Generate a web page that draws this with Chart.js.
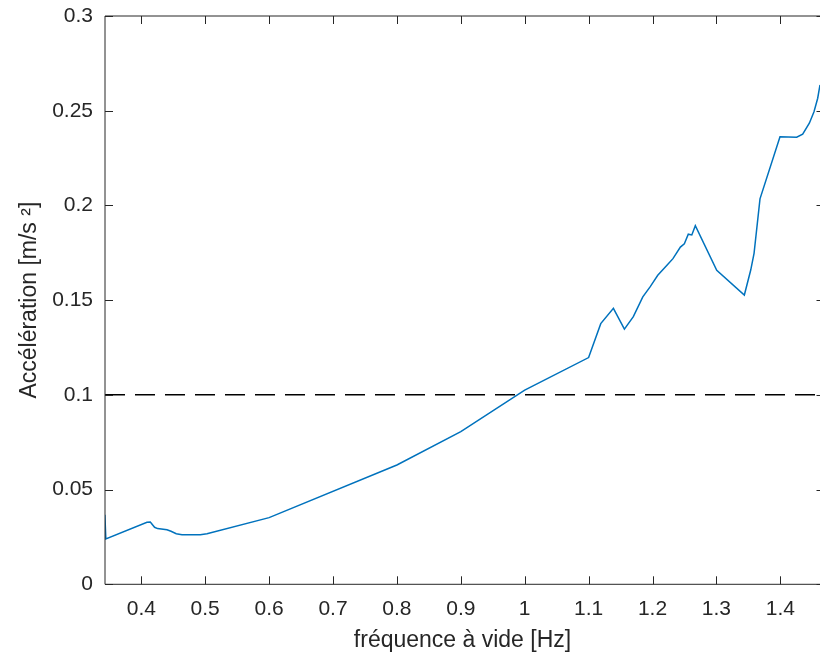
<!DOCTYPE html>
<html lang="fr">
<head>
    <meta charset="UTF-8">
    <title>Accélération</title>
    <script src="https://cdn.jsdelivr.net/npm/chart.js@4.4.0/dist/chart.umd.min.js"></script>
    <style>
        html, body { margin: 0; padding: 0; background: #fff; }
        #wrap { width: 820px; height: 657px; }
    </style>
</head>
<body>
<div id="wrap">
    <canvas id="chart_accel" width="820" height="657" role="img" aria-label="Accélération vs fréquence à vide"></canvas>
</div>

<script>
    // fréquence à vide [Hz]
    const freqs = [
        0.3430, 0.3445, 0.4089, 0.4141, 0.4208, 0.4255, 0.4402, 0.4465, 0.4547, 0.4637,
        0.4923, 0.5028, 0.6000, 0.8000, 0.9000, 1.0000, 1.1000, 1.1190, 1.1388, 1.1560,
        1.1700, 1.1848, 1.1962, 1.2082, 1.2240, 1.2320, 1.2436, 1.2498, 1.2560, 1.2615,
        1.2670, 1.3005, 1.3437, 1.3537, 1.3589, 1.3682, 1.3995, 1.4256, 1.4350, 1.4454,
        1.4527, 1.4585, 1.4621
    ];
    // accélération [m/s^2]
    const accels = [
        0.0367, 0.0240, 0.0327, 0.0329, 0.0301, 0.0294, 0.0288, 0.0280, 0.0267, 0.0262,
        0.0262, 0.0267, 0.0352, 0.0630, 0.0806, 0.1025, 0.1197, 0.1376, 0.1457, 0.1347,
        0.1413, 0.1517, 0.1570, 0.1631, 0.1689, 0.1719, 0.1780, 0.1798, 0.1848, 0.1844,
        0.1893, 0.1657, 0.1527, 0.1659, 0.1747, 0.2035, 0.2363, 0.2360, 0.2376, 0.2434,
        0.2495, 0.2566, 0.2636
    ];
    const threshold = 0.1;

    const xMin = 0.3432;
    const xMax = 1.4621;
    const xTicks = [0.4, 0.5, 0.6, 0.7, 0.8, 0.9, 1, 1.1, 1.2, 1.3, 1.4];
    const yTicks = [0, 0.05, 0.1, 0.15, 0.2, 0.25, 0.3];

    const textColor = '#262626';
    const fontFamily = '"Liberation Sans", Arial, Helvetica, sans-serif';

    // MATLAB-like box: inward ticks on every side, axes drawn over the data
    const axesBox = {
        id: 'axesBox',
        afterDatasetsDraw(chart) {
            const {ctx, chartArea: a, scales: {x, y}} = chart;
            ctx.save();
            ctx.strokeStyle = textColor;
            ctx.lineWidth = 1;
            ctx.beginPath();
            ctx.moveTo(a.left, a.bottom);
            ctx.lineTo(a.left, a.top);
            ctx.lineTo(a.right, a.top);
            ctx.moveTo(a.left, a.bottom);
            ctx.lineTo(a.right, a.bottom);
            x.ticks.forEach(t => {
                const px = Math.round(x.getPixelForValue(t.value)) + 0.5;
                ctx.moveTo(px, a.bottom);
                ctx.lineTo(px, a.bottom - 8);
                ctx.moveTo(px, a.top);
                ctx.lineTo(px, a.top + 8);
            });
            y.ticks.forEach(t => {
                const py = Math.round(y.getPixelForValue(t.value)) + 0.5;
                ctx.moveTo(a.left, py);
                ctx.lineTo(a.left + 8, py);
                ctx.moveTo(a.right - 3.5, py);
                ctx.lineTo(a.right, py);
            });
            ctx.stroke();
            ctx.restore();
        }
    };

    let chartAccel = new Chart(
        document.getElementById('chart_accel'),
        {
            type: 'line',
            data: {
                datasets: [
                    {
                        label: 'Accélération',
                        borderColor: '#0072BD',
                        backgroundColor: '#0072BD',
                        borderWidth: 1.5,
                        pointRadius: 0,
                        tension: 0,
                        order: 0,
                        data: freqs.map((f, i) => ({x: f, y: accels[i]})),
                    },
                    {
                        label: 'Seuil',
                        borderColor: '#000000',
                        backgroundColor: '#000000',
                        borderWidth: 1.5,
                        borderDash: [20, 10],
                        pointRadius: 0,
                        order: 1,
                        data: [{x: xMin, y: threshold}, {x: xMax, y: threshold}],
                    },
                ],
            },
            options: {
                responsive: false,
                animation: false,
                layout: {
                    padding: {top: 16, right: 0, left: 0, bottom: 0},
                },
                scales: {
                    x: {
                        type: 'linear',
                        min: xMin,
                        max: xMax,
                        afterBuildTicks: scale => { scale.ticks = xTicks.map(v => ({value: v})); },
                        afterFit: scale => {
                            scale.height = 72.7;
                            scale.paddingLeft = 0;
                            scale.paddingRight = 0;
                        },
                        grid: {display: false, drawTicks: false},
                        border: {display: false},
                        ticks: {
                            color: textColor,
                            padding: 12,
                            maxRotation: 0,
                            autoSkip: false,
                            font: {family: fontFamily, size: 21},
                            callback: v => String(Math.round(v * 10) / 10),
                        },
                        title: {
                            display: true,
                            text: 'fréquence à vide [Hz]',
                            color: textColor,
                            padding: {top: 0, bottom: 3},
                            font: {family: fontFamily, size: 23},
                        },
                    },
                    y: {
                        type: 'linear',
                        min: 0,
                        max: 0.3,
                        afterBuildTicks: scale => { scale.ticks = yTicks.map(v => ({value: v})); },
                        afterFit: scale => {
                            scale.width = 105;
                            scale.paddingTop = 0;
                            scale.paddingBottom = 0;
                        },
                        grid: {display: false, drawTicks: false},
                        border: {display: false},
                        ticks: {
                            color: textColor,
                            padding: 12,
                            autoSkip: false,
                            font: {family: fontFamily, size: 21},
                            callback: v => String(Math.round(v * 100) / 100),
                        },
                        title: {
                            display: true,
                            text: 'Accélération [m/s ²]',
                            color: textColor,
                            padding: {top: 16, bottom: 0},
                            font: {family: fontFamily, size: 23},
                        },
                    },
                },
                plugins: {
                    legend: {display: false},
                    tooltip: {enabled: false},
                },
            },
            plugins: [axesBox],
        }
    );
</script>
</body>
</html>
